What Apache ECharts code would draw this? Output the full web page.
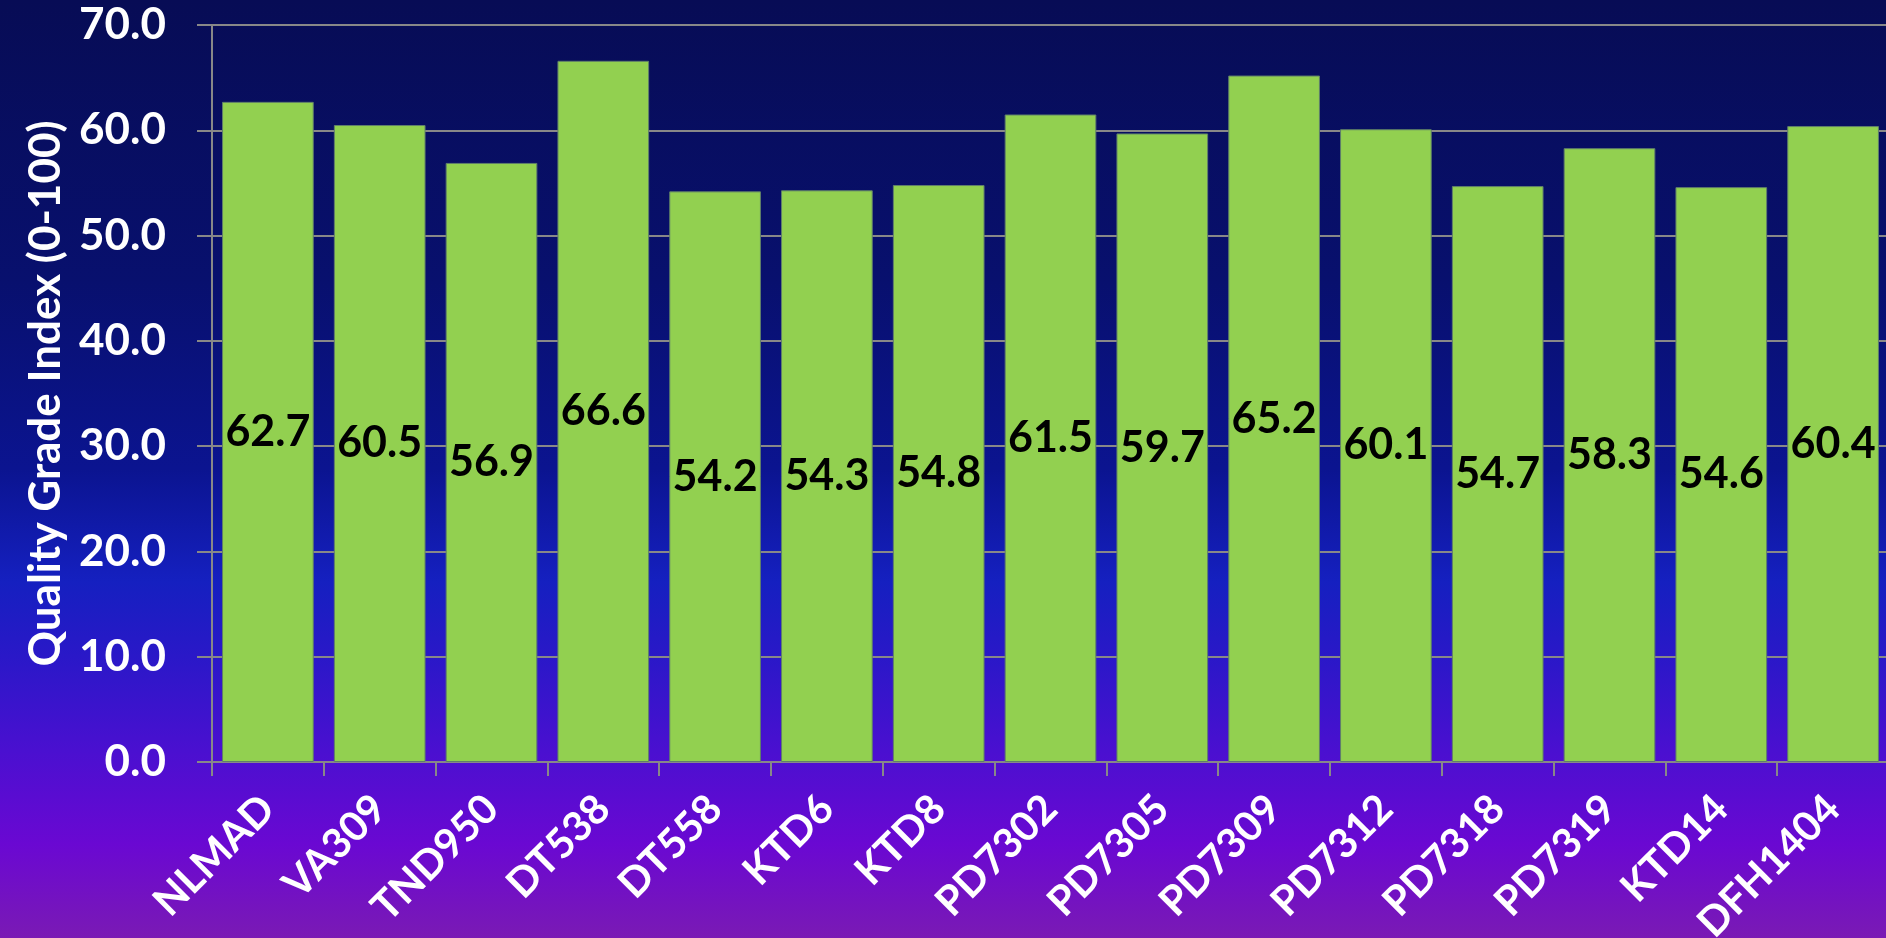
<!DOCTYPE html>
<html>
<head>
<meta charset="utf-8">
<script src="https://cdn.jsdelivr.net/npm/echarts@6/dist/echarts.min.js"></script>
<style>
html,body{margin:0;padding:0;width:1886px;height:938px;overflow:hidden;}
#chart{width:1886px;height:938px;}
</style>
</head>
<body>
<div id="chart"></div>
<script>
const categories = ['NLMAD','VA309','TND950','DT538','DT558','KTD6','KTD8','PD7302','PD7305','PD7309','PD7312','PD7318','PD7319','KTD14','DFH1404'];
const values = [62.7,60.5,56.9,66.6,54.2,54.3,54.8,61.5,59.7,65.2,60.1,54.7,58.3,54.6,60.4];
const yAxisName = 'Quality Grade Index (0-100)';
const yMin = 0, yMax = 70, yStep = 10;

const FONT = 'Lato';
const chart = echarts.init(document.getElementById('chart'));
chart.setOption({
  backgroundColor: {
    type: 'linear', x: 0, y: 0, x2: 0, y2: 1,
    colorStops: [
      {offset: 0, color: '#070c55'},
      {offset: 0.3, color: '#08106e'},
      {offset: 0.5, color: '#0b1490'},
      {offset: 0.62, color: '#1520c0'},
      {offset: 0.7, color: '#2a18c8'},
      {offset: 0.8, color: '#4a10d0'},
      {offset: 0.9, color: '#6a08d2'},
      {offset: 1, color: '#7a1ab4'}
    ]
  },
  animation: false,
  grid: {left: 212, top: 25, width: 1677, height: 737, containLabel: false, outerBoundsMode: 'none'},
  xAxis: {
    type: 'category',
    data: categories,
    axisLine: {show: true, lineStyle: {color: '#888888', width: 2}},
    axisTick: {show: true, length: 14, lineStyle: {color: '#888888', width: 2}},
    axisLabel: {rotate: 45, color: '#ffffff', fontFamily: FONT, fontWeight: 'bold', fontSize: 41, margin: 40, interval: 0}
  },
  yAxis: {
    type: 'value', min: yMin, max: yMax, interval: yStep,
    name: yAxisName, nameLocation: 'middle', nameRotate: 90, nameGap: 144,
    nameTextStyle: {color: '#ffffff', fontFamily: FONT, fontWeight: 'bold', fontSize: 44},
    axisLine: {show: true, lineStyle: {color: '#888888', width: 2}},
    axisTick: {show: true, inside: false, length: 15, lineStyle: {color: '#888888', width: 2}},
    splitLine: {show: true, lineStyle: {color: '#888888', width: 2}},
    axisLabel: {color: '#ffffff', fontFamily: FONT, fontWeight: 'bold', fontSize: 44, margin: 46,
      formatter: v => v.toFixed(1)}
  },
  series: [{
    type: 'bar',
    data: values,
    barCategoryGap: '18%',
    itemStyle: {color: '#92d050', borderColor: '#5f7f6a', borderWidth: 1},
    label: {show: true, position: 'inside', color: '#000000', fontFamily: FONT, fontWeight: 'bold', fontSize: 43,
      formatter: p => p.value.toFixed(1)}
  }]
});
</script>
</body>
</html>
